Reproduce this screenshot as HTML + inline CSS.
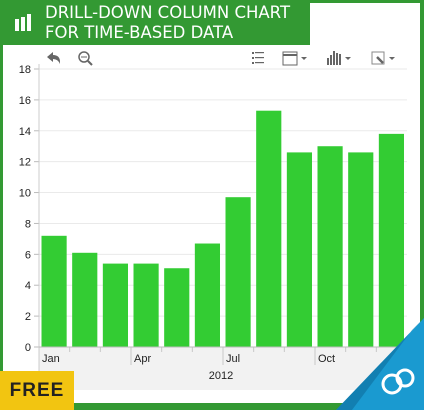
<!DOCTYPE html>
<html><head><meta charset="utf-8"><style>
body{margin:0;width:424px;height:410px;overflow:hidden;background:#339933;font-family:"Liberation Sans",sans-serif;position:relative}
.card{position:absolute;left:3px;top:3px;width:417px;height:400px;background:#fff}
.hdr{position:absolute;left:0;top:0;width:310px;height:45px;background:#339933;color:#fff;font-family:"DejaVu Sans","Liberation Sans",sans-serif;font-size:16.5px;line-height:20px}
.free{position:absolute;left:0;top:371px;width:74px;height:39px;background:#f2c511;color:#222;font-weight:bold;font-size:19px;letter-spacing:1px;text-align:center;line-height:39px}
</style></head><body>
<div class="card"></div>
<div class="hdr">
<svg style="position:absolute;left:15px;top:14px" width="16" height="18"><rect x="0" y="5" width="4" height="12" fill="#fff"/><rect x="6" y="3" width="4" height="14" fill="#fff"/><rect x="12" y="0" width="4" height="17" fill="#fff"/></svg>
<div style="position:absolute;left:45px;top:3px">DRILL-DOWN COLUMN CHART<br>FOR TIME-BASED DATA</div>
</div>
<svg id="c" width="424" height="410" style="position:absolute;left:0;top:0"></svg>
<div class="free">FREE</div>
<script>
const months=["Jan","Feb","Mar","Apr","May","Jun","Jul","Aug","Sep","Oct","Nov","Dec"];
const values=[7.2,6.1,5.4,5.4,5.1,6.7,9.7,15.3,12.6,13.0,12.6,13.8];
const yTicks=[0,2,4,6,8,10,12,14,16,18];
const monthLabels=["Jan","Apr","Jul","Oct"];
const yearLabel="2012";
const NS="http://www.w3.org/2000/svg";
const svg=document.getElementById('c');
const x0=39,x1=407,yTop=69,yBot=347,yMax=18;
const y=v=>yBot-(v/yMax)*(yBot-yTop);
const bw=(x1-x0)/months.length;
const x=i=>x0+i*bw;
function el(t,a,p){const e=document.createElementNS(NS,t);for(const k in a)e.setAttribute(k,a[k]);(p||svg).appendChild(e);return e;}
let g=el('rect',{x:x0,y:yBot,width:x1-x0,height:43,fill:'#f2f2f2'});


yTicks.forEach(t=>{
 const l=el('line',{x1:x0,x2:x1,y1:y(t),y2:y(t),stroke:'#eaeaea','stroke-width':1});
 
 
 el('line',{x1:x0-5,x2:x0,y1:y(t),y2:y(t),stroke:'#bbb'});
 const tx=el('text',{x:x0-8,y:y(t)+4,'text-anchor':'end','font-size':11,fill:'#222'});
 tx.textContent=t;
 
 
});
el('line',{x1:x0,x2:x0,y1:yTop-5,y2:390,stroke:'#ccc'});
values.forEach((v,i)=>{
 const r=el('rect',{x:x(i)+2.5,y:y(v),width:bw-5.5,height:yBot-y(v),fill:'#33cc33'});
 
 
});
months.forEach((m,i)=>{
 if(i==0)return;
 const q=monthLabels.includes(m);
 el('line',{x1:x(i),x2:x(i),y1:yBot,y2:q?365:352,stroke:'#c8c8c8'});
});
el('line',{x1:x0,x2:x1,y1:yBot,y2:yBot,stroke:'#bbb'});
months.forEach((m,i)=>{
 if(!monthLabels.includes(m))return;
 const t=el('text',{x:x(i)+3,y:362,'font-size':11,fill:'#222'});
 t.textContent=m;
 
 
});
const yt=el('text',{x:(x0+x1)/2-2,y:379,'text-anchor':'middle','font-size':11,fill:'#222'});
yt.textContent=yearLabel;


</script>
<svg width="424" height="410" style="position:absolute;left:0;top:0">
<g fill="#666" stroke="#666">
<path d="M47 57 L53 52 L53 55 Q60 55 60 62 L60 64 Q58 59 53 59 L53 62 Z" stroke="none"/>
<circle cx="84" cy="57" r="5" fill="none" stroke-width="1.5"/><line x1="81" y1="57" x2="87" y2="57"/><line x1="88" y1="61" x2="92" y2="65" stroke-width="2"/>
<g stroke="none"><rect x="252" y="52" width="2" height="2"/><rect x="255" y="52" width="9" height="1.2"/><rect x="252" y="57" width="2" height="2"/><rect x="255" y="57" width="9" height="1.2"/><rect x="252" y="62" width="2" height="2"/><rect x="255" y="62" width="9" height="1.2"/></g>
<g><rect x="283" y="52" width="14" height="13" fill="none"/><line x1="283" y1="55" x2="297" y2="55" stroke-width="2"/><path d="M301 57h6l-3 3z" stroke="none"/></g>
<g stroke="none"><rect x="327" y="58" width="2" height="7"/><rect x="330" y="55" width="2" height="10"/><rect x="333" y="51" width="2" height="14"/><rect x="336" y="53" width="2" height="12"/><rect x="339" y="54" width="2" height="11"/><path d="M345 57h6l-3 3z"/></g>
<g><rect x="372" y="52" width="12" height="12" fill="none" stroke="#888"/><path d="M377 57l6 6" stroke-width="2.5"/><path d="M389 57h6l-3 3z" stroke="none"/></g>
</g>
<g>
<path d="M424 318 L424 410 L336 410 Z" fill="#1a9ad0"/>
<path d="M424 318 L412 330 L352 410 L336 410 Z" fill="#0d6e9c" opacity="0.6"/>
<circle cx="392" cy="384" r="9" fill="none" stroke="#fff" stroke-width="3"/><circle cx="405" cy="378" r="8" fill="none" stroke="#fff" stroke-width="3"/>
</g>
</svg>
</body></html>
